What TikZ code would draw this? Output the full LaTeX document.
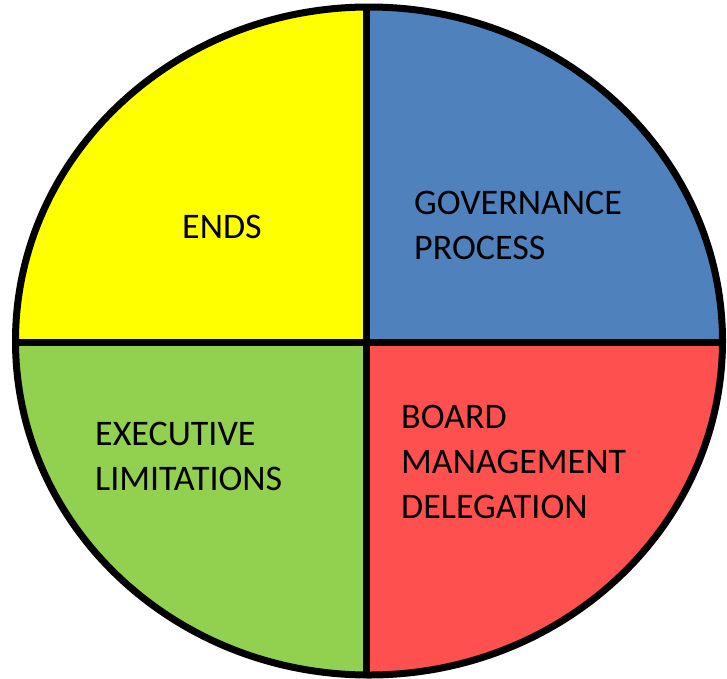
\documentclass[tikz,border=0pt]{standalone}
\usepackage{fontspec}
\setmainfont{Carlito}
\definecolor{endsyellow}{HTML}{FFFF00}
\definecolor{govblue}{HTML}{4F81BD}
\definecolor{delegred}{HTML}{FF5050}
\definecolor{limgreen}{HTML}{92D050}
\begin{document}
\begin{tikzpicture}[x=1pt,y=-1pt,
  outline/.style={line width=7pt,draw=black},
  label/.style={inner sep=0pt,anchor=base west,align=left,
    font=\fontsize{36}{45}\selectfont}]
\useasboundingbox (0,0) rectangle (727,678);
\clip (0,0) rectangle (727,678);
% quadrant fills, cut to the ellipse
\begin{scope}
  \clip (369,341) ellipse [x radius=353.5, y radius=334];
  \fill[endsyellow] (0,0) rectangle (366.5,342);
  \fill[govblue] (366.5,0) rectangle (727,342);
  \fill[limgreen] (0,342) rectangle (366.5,678);
  \fill[delegred] (366.5,342) rectangle (727,678);
  % dividers
  \draw[outline] (366.5,0) -- (366.5,678);
  \draw[outline] (0,342) -- (727,342);
\end{scope}
\draw[outline] (369,341) ellipse [x radius=353.5, y radius=334];
% quadrant labels (anchored at the baseline of their last line)
\node[label] (ends) at (182,238.5) {ENDS};
\node[label] (gov) at (414,259.5) {GOVERNANCE\\PROCESS};
\node[label] (exec) at (95,490) {EXECUTIVE\\LIMITATIONS};
\node[label] (board) at (401,518) {BOARD\\MANAGEMENT\\DELEGATION};
\end{tikzpicture}
\end{document}
